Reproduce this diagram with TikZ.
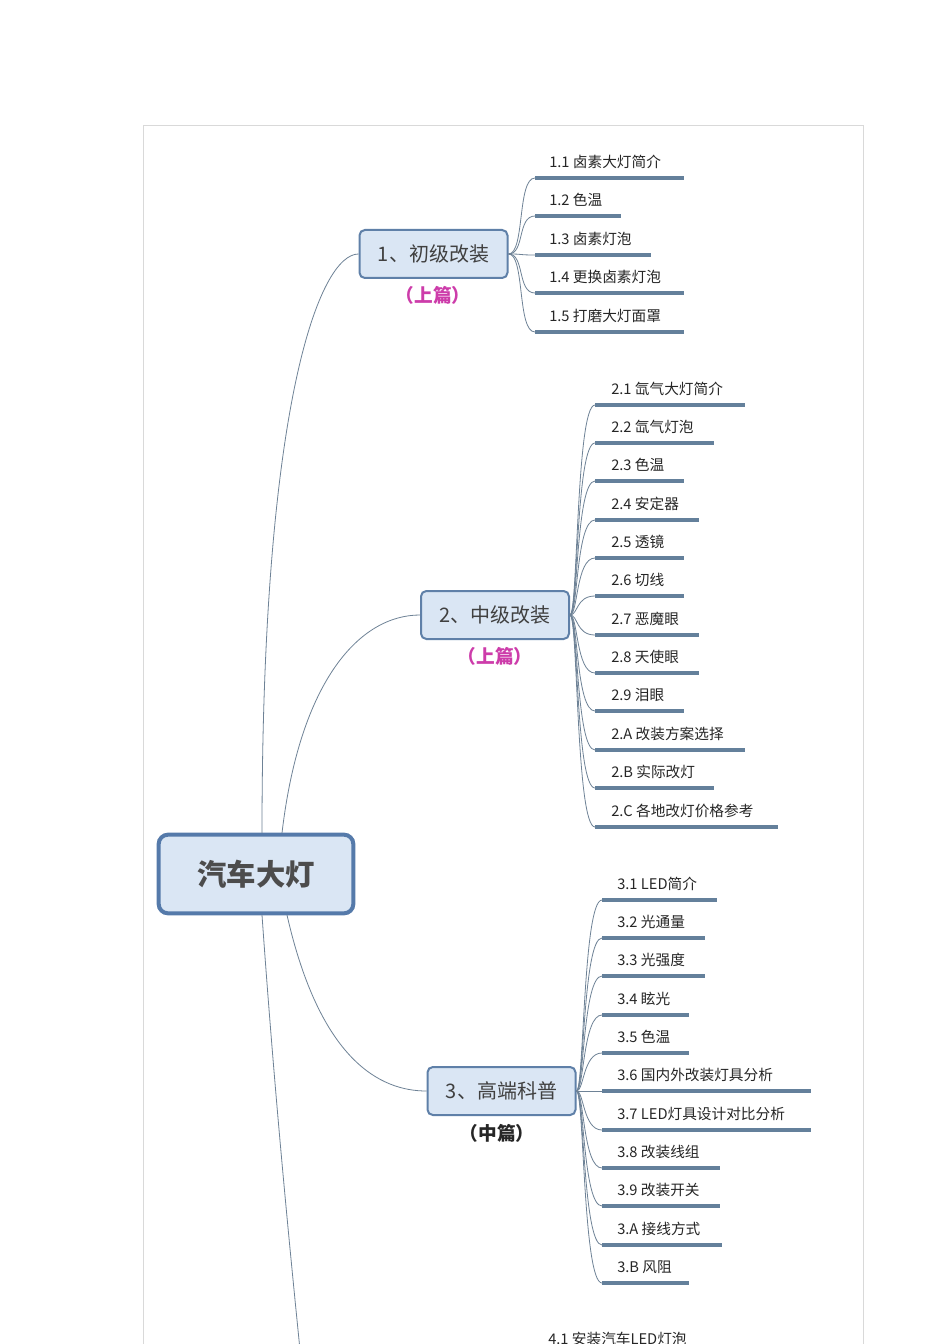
\documentclass[tikz,border=0pt]{standalone}
\usepackage{fontspec}
\setmainfont{Noto Sans CJK SC}
\definecolor{connc}{RGB}{110,130,150}
\definecolor{ulc}{RGB}{100,128,155}
\definecolor{topicb}{RGB}{95,128,168}
\definecolor{topicf}{RGB}{218,230,244}
\definecolor{rootb}{RGB}{85,122,170}
\definecolor{pinkc}{RGB}{205,60,170}
\begin{document}
\begin{tikzpicture}[x=0.75pt,y=-0.75pt,
  conn/.style={draw=connc,line width=0.6pt},
  uline/.style={draw=ulc,line width=2.4pt},
  leaf/.style={anchor=west,font=\fontsize{11pt}{13pt}\selectfont,text=black!85,inner sep=0pt},
  topic/.style={draw=topicb,fill=topicf,rounded corners=4pt,line width=1.5pt,font=\fontsize{15pt}{17pt}\selectfont,text=black!75,minimum width=111pt,minimum height=36pt},
  sub/.style={font=\fontsize{14pt}{16pt}\selectfont\bfseries}]
\useasboundingbox (0,0) rectangle (950,1344);
\clip (0,0) rectangle (950,1344);
\fill[white] (0,0) rectangle (950,1344);
\draw[black!15] (143,1350) -- (143,125) -- (863,125) -- (863,1350);
\node[draw=rootb,fill=topicf,rounded corners=7pt,line width=3pt,minimum width=146pt,minimum height=59pt,font=\fontsize{22pt}{24pt}\selectfont\bfseries,text=black!70] (root) at (256,874) {汽车大灯};
\node[topic] (b1) at (433.5,254) {1、初级改装};
\node[topic] (b2) at (495,615) {2、中级改装};
\node[topic] (b3) at (501.5,1091) {3、高端科普};
\node[sub,text=pinkc] (s1) at (433,295) {（上篇）};
\node[sub,text=pinkc] (s2) at (495,656) {（上篇）};
\node[sub,text=black!85] (s3) at (497,1133) {（中篇）};
\coordinate (r1) at (262,833);
\coordinate (r2) at (282,833);
\coordinate (r3) at (287,915);
\coordinate (r4) at (262,915);
\coordinate (e4) at (300,1350);
\draw[conn] (r1) .. controls (262,400) and (320,254) .. (b1.west);
\draw[conn] (r2) .. controls (300,680) and (360,615) .. (b2.west);
\draw[conn] (r3) .. controls (320,1060) and (380,1091) .. (b3.west);
\draw[conn] (r4) .. controls (275,1100) and (290,1250) .. (e4);
\node[leaf] (l41) at (548,1339) {4.1 安装汽车LED灯泡};
% branch 1
\foreach \i/\y/\e/\t in {1/162/684/1.1 卤素大灯简介,2/200/621/1.2 色温,3/239/651/1.3 卤素灯泡,4/277/684/1.4 更换卤素灯泡,5/316/684/1.5 打磨大灯面罩}{
  \node[leaf] (l1\i) at (549,\y) {\t};
  \coordinate (a1\i) at (535,\y+16);
  \coordinate (z1\i) at (\e,\y+16);
  \draw[uline] (a1\i) -- (z1\i);
  \draw[conn] (b1.east) .. controls (525,254) and (517,\y+16) .. (a1\i);
}
% branch 2
\foreach \i/\y/\e/\t in {1/389/745/2.1 氙气大灯简介,2/427/714/2.2 氙气灯泡,3/465/684/2.3 色温,4/504/699/2.4 安定器,5/542/684/2.5 透镜,6/580/684/2.6 切线,7/619/699/2.7 恶魔眼,8/657/699/2.8 天使眼,9/695/684/2.9 泪眼,A/734/745/2.A 改装方案选择,B/772/714/2.B 实际改灯,C/811/778/2.C 各地改灯价格参考}{
  \node[leaf] (l2\i) at (611,\y) {\t};
  \coordinate (a2\i) at (595,\y+16);
  \coordinate (z2\i) at (\e,\y+16);
  \draw[uline] (a2\i) -- (z2\i);
  \draw[conn] (b2.east) .. controls (578,615) and (576,\y+16) .. (a2\i);
}
% branch 3
\foreach \i/\y/\e/\t in {1/884/717/3.1 LED简介,2/922/705/3.2 光通量,3/960/705/3.3 光强度,4/999/689/3.4 眩光,5/1037/689/3.5 色温,6/1075/811/3.6 国内外改装灯具分析,7/1114/811/3.7 LED灯具设计对比分析,8/1152/720/3.8 改装线组,9/1190/720/3.9 改装开关,A/1229/722/3.A 接线方式,B/1267/689/3.B 风阻}{
  \node[leaf] (l3\i) at (617,\y) {\t};
  \coordinate (a3\i) at (602,\y+16);
  \coordinate (z3\i) at (\e,\y+16);
  \draw[uline] (a3\i) -- (z3\i);
  \draw[conn] (b3.east) .. controls (584,1091) and (583,\y+16) .. (a3\i);
}
\end{tikzpicture}
\end{document}
